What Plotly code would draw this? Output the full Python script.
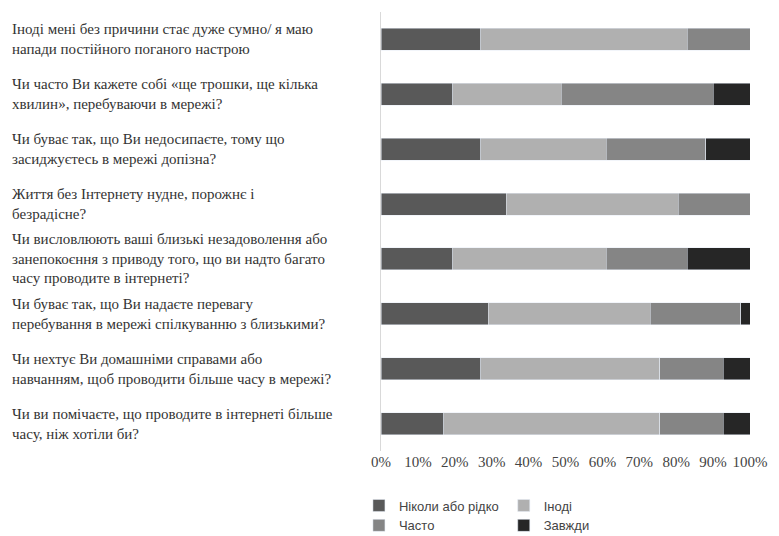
import plotly.graph_objects as go

questions = [
    "Іноді мені без причини стає дуже сумно/ я маю<br>напади постійного поганого настрою",
    "Чи часто Ви кажете собі «ще трошки, ще кілька<br>хвилин», перебуваючи в мережі?",
    "Чи буває так, що Ви недосипаєте, тому що<br>засиджуєтесь в мережі допізна?",
    "Життя без Інтернету нудне, порожнє і<br>безрадісне?",
    "Чи висловлюють ваші близькі незадоволення або<br>занепокоєння з приводу того, що ви надто багато<br>часу проводите в інтернеті?",
    "Чи буває так, що Ви надаєте перевагу<br>перебування в мережі спілкуванню з близькими?",
    "Чи нехтує Ви домашніми справами або<br>навчанням, щоб проводити більше часу в мережі?",
    "Чи ви помічаєте, що проводите в інтернеті більше<br>часу, ніж хотіли би?",
]

data = {
    "Ніколи або рідко": [27, 19.4, 27, 34, 19.4, 29, 27, 17],
    "Іноді": [56, 29.4, 34, 46.6, 41.6, 44, 48.6, 58.6],
    "Часто": [17, 41.2, 27, 19.4, 22, 24.5, 17.2, 17.2],
    "Завжди": [0, 10, 12, 0, 17, 2.5, 7.2, 7.2],
}
colors = ["#595959", "#b0b0b0", "#858585", "#262626"]

ids = list(range(len(questions)))
fig = go.Figure()
for (name, vals), c in zip(data.items(), colors):
    fig.add_trace(go.Bar(y=ids, x=[v / 100 for v in vals], name=name,
                         orientation="h", marker_color=c, width=0.4))

for i, q in zip(ids, questions):
    fig.add_annotation(x=-1.005, xref="paper", y=i, yref="y", text=q,
                       showarrow=False, xanchor="left", align="left",
                       font=dict(family="Liberation Serif, DejaVu Serif", size=15, color="#333"))

fig.update_layout(
    barmode="stack",
    width=779, height=536,
    plot_bgcolor="white", paper_bgcolor="white",
    margin=dict(l=373, r=37, t=4, b=72),
    xaxis=dict(range=[0, 1], tickformat=".0%", dtick=0.1, showgrid=False,
               ticks="", tickfont=dict(family="Liberation Serif, DejaVu Serif", size=15, color="#444")),
    yaxis=dict(showticklabels=False, showgrid=False,
               showline=True, linecolor="#d9d9d9", range=[7.5, -0.5]),
    legend=dict(orientation="h", x=0.26, xanchor="center", y=-0.09, yanchor="top",
                traceorder="normal", entrywidth=0, itemwidth=30,
                font=dict(family="Liberation Sans, Arial", size=13, color="#444")),
)

fig.write_html("out.html")
